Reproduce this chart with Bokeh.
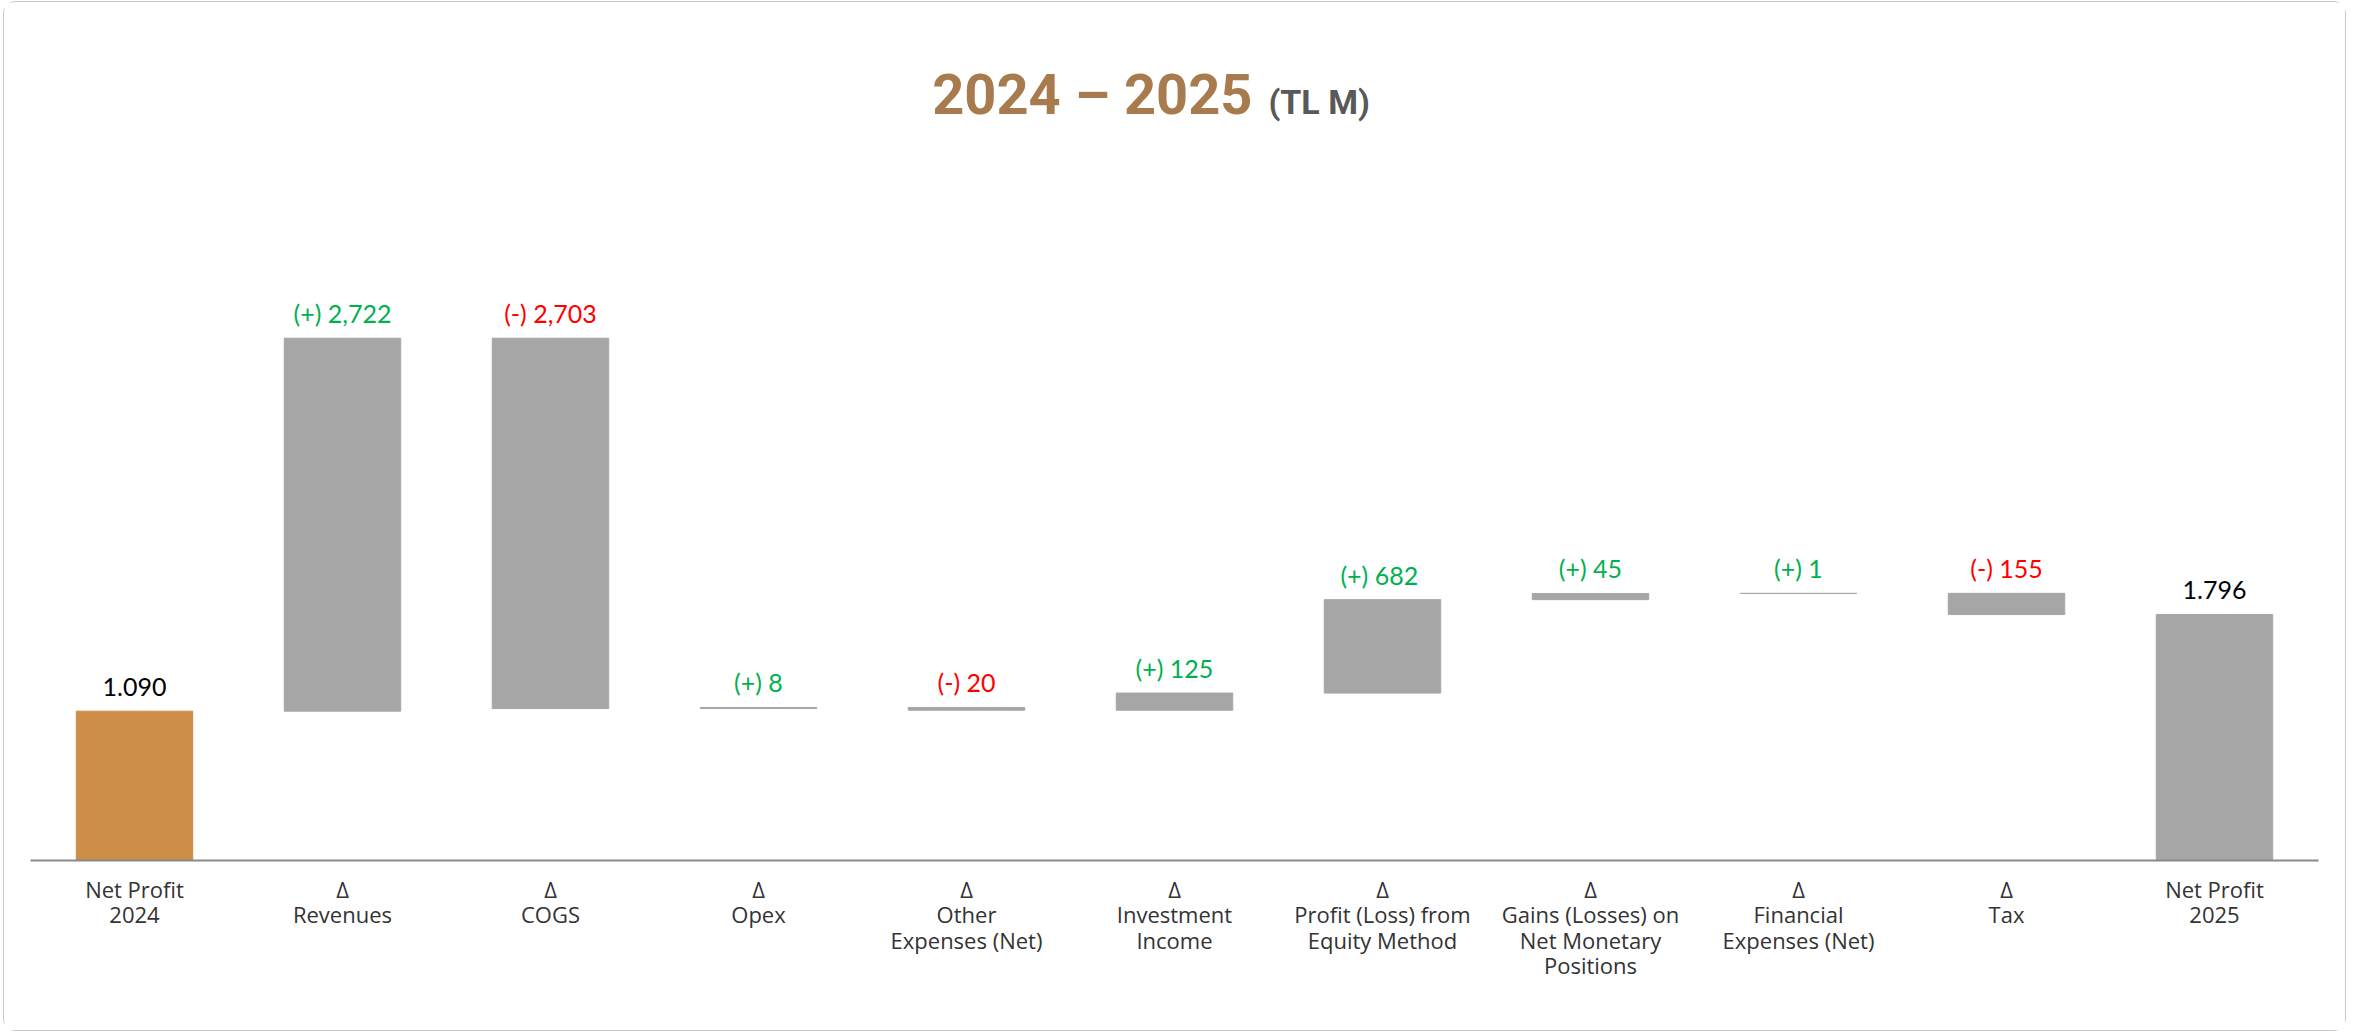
from bokeh.plotting import figure
from bokeh.models import ColumnDataSource, LabelSet, Label, Range1d, FixedTicker
from bokeh.core.properties import value
from bokeh.embed import file_html
from bokeh.resources import INLINE

# ---- data ----
categories = [
    "Net Profit\n2024",
    "Δ\nRevenues",
    "Δ\nCOGS",
    "Δ\nOpex",
    "Δ\nOther\nExpenses (Net)",
    "Δ\nInvestment\nIncome",
    "Δ\nProfit (Loss) from\nEquity Method",
    "Δ\nGains (Losses) on\nNet Monetary\nPositions",
    "Δ\nFinancial\nExpenses (Net)",
    "Δ\nTax",
    "Net Profit\n2025",
]
amounts = [1090, 2722, -2703, 8, -20, 125, 682, 45, 1, -155, 1796]
kinds = ["total", "delta", "delta", "delta", "delta", "delta",
         "delta", "delta", "delta", "delta", "total"]
value_labels = ["1.090", "(+) 2,722", "(-) 2,703", "(+) 8", "(-) 20", "(+) 125",
                "(+)  682", "(+) 45", "(+) 1", "(-) 155", "1.796"]
title_main = "2024 – 2025"
title_unit = "(TL M)"

# ---- styles ----
ORANGE = "#CD8E48"
GREY = "#A6A6A6"
GREEN = "#00B050"
RED = "#FF0000"
BLACK = "#000000"

bottoms, tops = [], []
running = 0
for a, k in zip(amounts, kinds):
    if k == "total":
        bottoms.append(0)
        tops.append(a)
        running = a
    else:
        bottoms.append(running)
        running += a
        tops.append(running)

xs = [i + 0.5 for i in range(len(categories))]
bar_colors = [ORANGE if i == 0 else GREY for i in range(len(categories))]
label_colors = [BLACK if k == "total" else (GREEN if a > 0 else RED)
                for a, k in zip(amounts, kinds)]
label_y = [max(b, t) for b, t in zip(bottoms, tops)]

src = ColumnDataSource(dict(x=xs, bottom=bottoms, top=tops, color=bar_colors,
                            label=value_labels, label_color=label_colors, label_y=label_y))

FRAME_H = 830
Y_MAX = 6058
PX_PER_UNIT = FRAME_H / Y_MAX

p = figure(width=2343, height=1030,
           x_range=Range1d(0, len(categories)), y_range=Range1d(0, Y_MAX),
           output_backend="svg", toolbar_location=None, y_axis_location=None,
           min_border_left=26, min_border_right=29, min_border_top=28, min_border_bottom=172)
p.styles = {"border": "1px solid #C8C8C8", "border-radius": "12px",
            "margin-left": "3px", "margin-top": "1px"}
p.xgrid.visible = False
p.ygrid.visible = False
p.outline_line_color = None
p.background_fill_color = "white"

p.vbar(x="x", width=0.56, bottom="bottom", top="top", fill_color="color",
       line_color="color", line_width=1, source=src)

labels = LabelSet(x="x", y="label_y", text="label", text_color="label_color",
                  text_align="center", text_baseline="alphabetic", y_offset=15,
                  text_font=value("Lato"), text_font_size="25px", source=src)
p.add_layout(labels)

ax = p.xaxis[0]
ax.ticker = FixedTicker(ticks=xs)
ax.major_label_overrides = {x: c for x, c in zip(xs, categories)}
ax.major_tick_line_color = None
ax.minor_tick_line_color = None
ax.axis_line_color = "#898989"
ax.axis_line_width = 2
ax.major_label_standoff = 7
ax.major_label_text_font = "Open Sans"
ax.major_label_text_font_size = "22px"
ax.major_label_text_line_height = 0.85
ax.major_label_text_color = "#333333"

title_x = 5.913
p.add_layout(Label(x=title_x, y=766 / PX_PER_UNIT, x_offset=-8, text=title_main,
                   text_align="right", text_baseline="middle", text_font="Roboto",
                   text_font_style="bold", text_font_size="56px", text_color="#A87B4E"))
p.add_layout(Label(x=title_x, y=759 / PX_PER_UNIT, x_offset=8, text=title_unit,
                   text_align="left", text_baseline="middle", text_font="Roboto",
                   text_font_style="bold", text_font_size="34px", text_color="#595959"))

open("out.html", "w").write(file_html(p, INLINE))
